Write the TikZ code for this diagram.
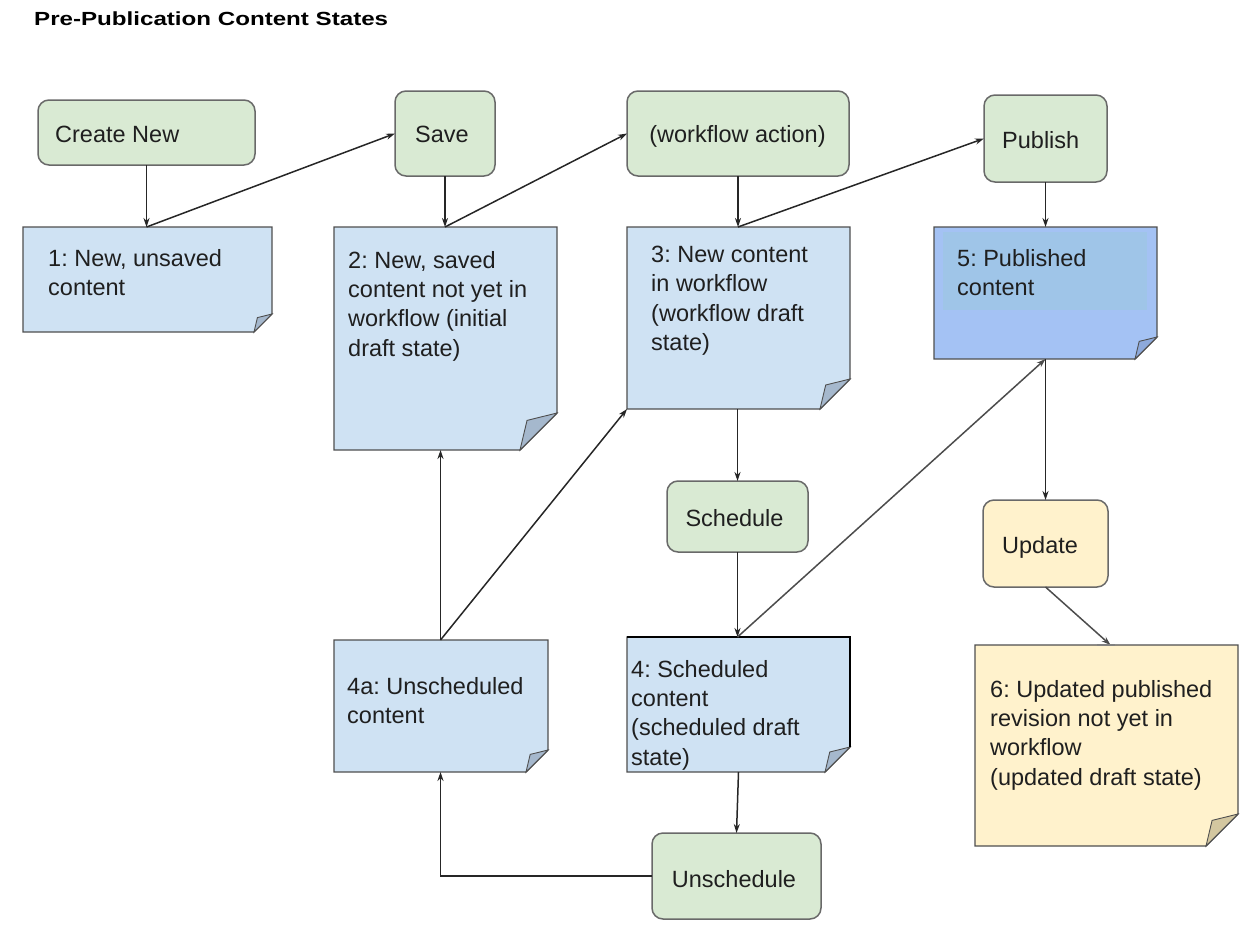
\documentclass[tikz,border=0pt]{standalone}
\usepackage{fontspec}
\setmainfont{Liberation Sans}
\usetikzlibrary{arrows.meta,calc}
\frenchspacing
\definecolor{gfill}{HTML}{D9EAD3}
\definecolor{bfill}{HTML}{CFE2F3}
\definecolor{pfill}{HTML}{A4C2F4}
\definecolor{pinner}{HTML}{9FC5E8}
\definecolor{yfill}{HTML}{FFF2CC}
\definecolor{edge}{HTML}{4F4F4F}
\definecolor{bfold}{HTML}{A5B8CD}
\definecolor{pfold}{HTML}{8DA9DB}
\definecolor{yfold}{HTML}{D3C7A0}
\definecolor{txt}{HTML}{1F1F1F}
\tikzset{
  action/.style={draw=edge!85, line width=1.5pt, rounded corners=11pt, fill=#1, inner sep=0, outer sep=0},
  lbl/.style={font=\fontsize{23.5}{29.3}\selectfont, text=txt, inner sep=0, align=left},
  conn/.style={draw=black!85, line width=1.5pt, -{Stealth[length=9pt,width=6pt]}},
  notepath/.style={draw=edge, line width=1.4pt, line join=miter},
}
\newcommand\notebox[8]{%
  \path[notepath, fill=#7] (#2,#3) -- (#4,#3) -- (#4,{#5-#6}) -- ({#4-#6},#5) -- (#2,#5) -- cycle;
  \path[notepath, fill=#8, line width=0.9pt] (#4,{#5-#6}) -- ({#4-0.81*#6},{#5-0.8*#6}) -- ({#4-#6},#5) -- cycle;
  \node[inner sep=0, outer sep=0, minimum width={#4-#2}, minimum height={#5-#3}] (#1) at ({(#2+#4)/2},{(#3+#5)/2}) {};
}
\begin{document}
\begin{tikzpicture}[x=1pt,y=-1pt]
\useasboundingbox (0,0) rectangle (1258,934);

% title
\node[anchor=base west, inner sep=0, text=black] (title) at (34,25.5)
  {\scalebox{1.27}[1]{\fontsize{19}{19}\selectfont\bfseries Pre-Publication Content States}};

% action boxes
\node[action=gfill, minimum width=217, minimum height=65] (create) at (146.5,132.5) {};
\node[action=gfill, minimum width=100, minimum height=85] (save) at (445,133.5) {};
\node[action=gfill, minimum width=222, minimum height=85] (wfa) at (738,133.5) {};
\node[action=gfill, minimum width=123, minimum height=87] (publish) at (1045.5,138.5) {};
\node[action=gfill, minimum width=141, minimum height=71] (schedule) at (737.5,516.5) {};
\node[action=yfill, minimum width=125, minimum height=87] (update) at (1045.5,543.5) {};
\node[action=gfill, minimum width=169, minimum height=86] (unschedule) at (736.5,876) {};

% notes
\notebox{n1}{23}{227}{272}{332}{18}{bfill}{bfold}
\notebox{n2}{334}{227}{557}{450}{37}{bfill}{bfold}
\notebox{n3}{627}{227}{850}{409}{30}{bfill}{bfold}
\notebox{n5}{934}{227}{1157}{359}{22}{pfill}{pfold}
\fill[pinner] (943,232) rectangle (1147,310);
\notebox{n4a}{334}{640}{548}{772}{22}{bfill}{bfold}
\notebox{n4}{627}{637}{850}{772}{25}{bfill}{bfold}
\draw[black, line width=2.6pt] (627,637) -- (850,637) -- (850,747);
\notebox{n6}{975}{645}{1238}{846}{32}{yfill}{yfold}

% labels
\node[lbl, anchor=base west] (lcreate) at (55,142) {Create New};
\node[lbl, anchor=base west] (lsave) at (415,142) {Save};
\node[lbl, anchor=base] (lwfa) at (737.5,142) {(workflow action)};
\node[lbl, anchor=base west] (lpublish) at (1002,148) {Publish};
\node[lbl, anchor=base] (lschedule) at (734.5,526) {Schedule};
\node[lbl, anchor=base west] (lupdate) at (1002,553) {Update};
\node[lbl, anchor=base] (lunschedule) at (734,887) {Unschedule};

\node[lbl, anchor=north west] (t1) at (48,249) {1: New, unsaved\\content};
\node[lbl, anchor=north west] (t2) at (348,251) {2: New, saved\\content not yet in\\workflow (initial\\draft state)};
\node[lbl, anchor=north west] (t3) at (651,246) {3: New content\\in workflow\\(workflow draft\\state)};
\node[lbl, anchor=north west] (t5) at (957,249) {5: Published\\content};
\node[lbl, anchor=north west] (t4a) at (347,677) {4a: Unscheduled\\content};
\node[lbl, anchor=north west] (t4) at (631,660) {4: Scheduled\\content\\(scheduled draft\\state)};
\node[lbl, anchor=north west] (t6) at (990,680) {6: Updated published\\revision not yet in\\workflow\\(updated draft state)};

% connectors
\draw[conn] (create.south) -- (create.south |- n1.north);
\draw[conn] (create.south |- n1.north) -- (save.west);
\draw[conn] (save.south) -- (save.south |- n2.north);
\draw[conn] (save.south |- n2.north) -- (wfa.west);
\draw[conn] (wfa.south) -- (wfa.south |- n3.north);
\draw[conn] (wfa.south |- n3.north) -- (publish.west);
\draw[conn] (publish.south) -- (publish.south |- n5.north);
\draw[conn] (schedule.north |- n3.south) -- (schedule.north);
\draw[conn] (schedule.south) -- (schedule.south |- n4.north);
\draw[conn, draw=black!70] (schedule.south |- n4.north) -- (n5.south);
\draw[conn] (n5.south) -- (update.north);
\coordinate (n6in) at ($(n6.north)+(4,0)$);
\draw[conn, draw=black!70] (update.south) -- (n6in);
\draw[gray, line width=1.5pt] ($(n6in)+(-14,0)$) -- ($(n6in)+(4,0)$);
\draw[conn] (n4.south) -- (unschedule.north);
\coordinate (n4abot) at ($(n4a.south)+(-0.5,0)$);
\draw[conn] (unschedule.west) -| (n4abot);
\coordinate (n4atop) at ($(n4a.north)+(-0.5,0)$);
\draw[conn] (n4atop) -- (n4atop |- n2.south);
\draw[conn] (n4atop) -- (n3.south west);
\end{tikzpicture}
\end{document}
